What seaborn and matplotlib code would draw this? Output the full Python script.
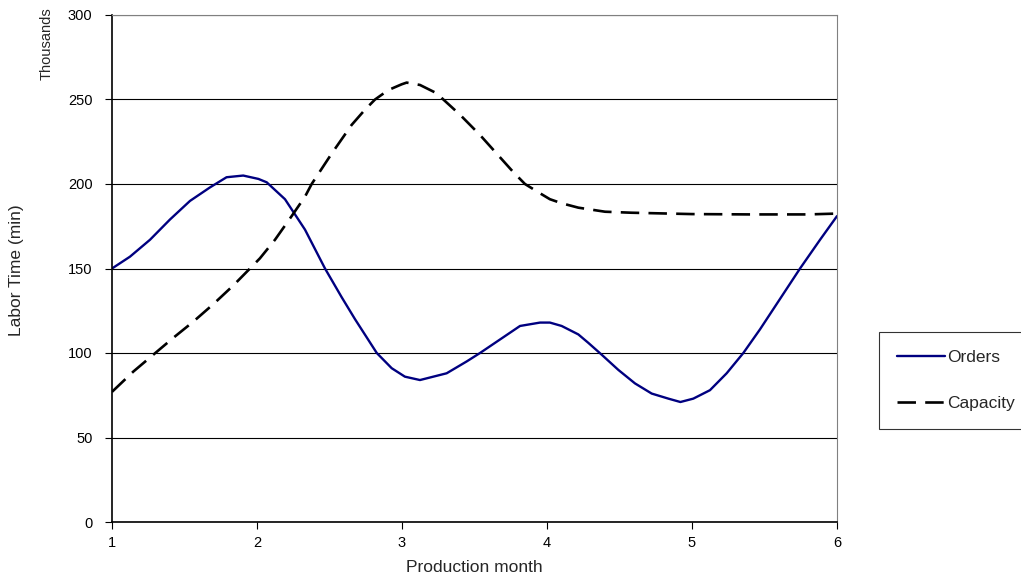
import matplotlib
matplotlib.use('Agg')
import matplotlib.pyplot as plt
import pandas as pd
import seaborn as sns
from matplotlib import ticker

# values (labor time, thousands of minutes)
orders_month = [1.0, 1.124, 1.262, 1.40, 1.538, 1.676, 1.79, 1.905, 2.01,
                2.067, 2.193, 2.331, 2.469, 2.584, 2.676, 2.826, 2.929, 3.02,
                3.124, 3.308, 3.446, 3.538, 3.676, 3.814, 3.952, 4.02, 4.101,
                4.216, 4.285, 4.377, 4.492, 4.607, 4.722, 4.837, 4.92, 5.009,
                5.124, 5.239, 5.354, 5.469, 5.584, 5.745, 5.883, 6.0]
orders_val = [150, 157, 167, 179, 190, 198, 204, 205, 203,
              201, 191, 173, 150, 133, 120, 100, 91, 86,
              84, 88, 95, 100, 108, 116, 118, 118, 116,
              111, 106, 99, 90, 82, 76, 73, 71, 73,
              78, 88, 100, 114, 129, 150, 167, 181]

capacity_month = [1.0, 1.147, 1.285, 1.423, 1.56, 1.70, 1.837, 1.963, 2.02,
                  2.124, 2.239, 2.331, 2.377, 2.515, 2.653, 2.745, 2.814,
                  2.906, 2.998, 3.032, 3.124, 3.239, 3.285, 3.40, 3.538,
                  3.653, 3.768, 3.848, 3.952, 4.02, 4.101, 4.216, 4.40,
                  4.584, 4.791, 5.0, 5.4, 5.8, 6.0]
capacity_val = [77, 89, 99, 109, 118.5, 129, 140, 151, 156,
                167, 181, 192.5, 200, 218, 235, 244, 250,
                255.6, 259, 260, 258.6, 253.7, 250, 241, 229,
                218, 207, 200, 194.5, 191, 188.6, 186, 183.6,
                183, 182.6, 182.2, 182, 182, 182.5]

orders = pd.DataFrame({'month': orders_month, 'labor': orders_val})
capacity = pd.DataFrame({'month': capacity_month, 'labor': capacity_val})

sns.set_style('white')
plt.rcParams['font.family'] = ['Liberation Sans', 'DejaVu Sans']

fig = plt.figure(figsize=(10.21, 5.83), dpi=100)
ax = fig.add_axes([112 / 1021, 61 / 583, 725 / 1021, 507 / 583])

sns.lineplot(data=orders, x='month', y='labor', ax=ax, color='#000080',
             lw=1.7, label='Orders')
sns.lineplot(data=capacity, x='month', y='labor', ax=ax, color='black',
             lw=1.9, ls=(0, (7, 3.5)), label='Capacity')

ax.set(xlim=(1, 6), ylim=(0, 300), ylabel='')
ax.set_xlabel('Production month', fontsize=12.5, labelpad=7)
ax.xaxis.set_major_locator(ticker.MultipleLocator(1))
ax.yaxis.set_major_locator(ticker.MultipleLocator(50))
ax.grid(axis='y', color='black', lw=0.8)
ax.tick_params(axis='both', direction='out', length=5, width=0.8,
               labelsize=10.5, colors='black', bottom=True, left=True)
ax.tick_params(axis='y', pad=9)
ax.tick_params(axis='x', pad=5)
for side in ['left', 'bottom']:
    ax.spines[side].set_color('black')
    ax.spines[side].set_linewidth(1.2)
for side in ['top', 'right']:
    ax.spines[side].set_color('#808080')
    ax.spines[side].set_linewidth(0.8)

fig.text(17 / 1021, 1 - 270 / 583, 'Labor Time (min)', rotation=90,
         va='center', ha='center', fontsize=12.5)
fig.text(47 / 1021, 1 - 7 / 583, 'Thousands', rotation=90, va='top',
         ha='center', fontsize=10.5)

leg = ax.legend(loc='upper left', bbox_to_anchor=(879 / 1021, 1 - 332 / 583),
                bbox_transform=fig.transFigure, frameon=True, fancybox=False,
                fontsize=12.5, handlelength=2.75, handletextpad=0.12,
                labelspacing=1.75, borderpad=1.05, borderaxespad=0)
leg.get_frame().set_edgecolor('black')
leg.get_frame().set_linewidth(0.8)

fig.savefig('out.png', dpi=100)
